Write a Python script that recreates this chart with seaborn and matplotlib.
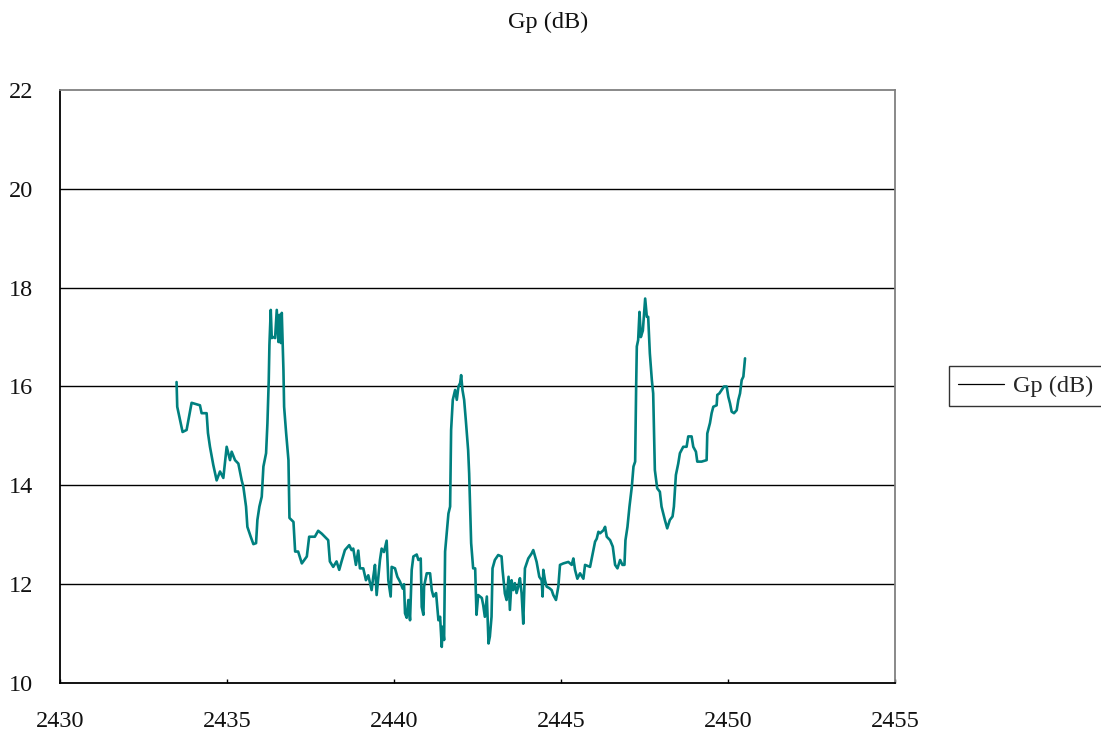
import matplotlib
matplotlib.use("Agg")
import matplotlib.pyplot as plt
from matplotlib.lines import Line2D
import numpy as np
import pandas as pd
import seaborn as sns

# Measured power gain versus frequency (MHz)
freq_mhz = [
    2433.49, 2433.51, 2433.67, 2433.79, 2433.94, 2434.19, 2434.24, 2434.39, 2434.43, 2434.49,
    2434.59, 2434.69, 2434.79, 2434.89, 2434.99, 2435.09, 2435.14, 2435.24, 2435.34, 2435.44,
    2435.49, 2435.57, 2435.61, 2435.71, 2435.79, 2435.87, 2435.91, 2435.97, 2436.04, 2436.09,
    2436.17, 2436.21, 2436.25, 2436.27, 2436.31, 2436.34, 2436.39, 2436.44, 2436.49, 2436.54,
    2436.57, 2436.61, 2436.64, 2436.69, 2436.71, 2436.77, 2436.84, 2436.87, 2436.99, 2437.04,
    2437.13, 2437.24, 2437.39, 2437.46, 2437.63, 2437.73, 2437.84, 2438.03, 2438.08, 2438.18,
    2438.28, 2438.36, 2438.43, 2438.53, 2438.66, 2438.73, 2438.78, 2438.86, 2438.93, 2438.98,
    2439.08, 2439.16, 2439.23, 2439.33, 2439.38, 2439.43, 2439.48, 2439.58, 2439.63, 2439.70,
    2439.78, 2439.83, 2439.90, 2439.93, 2440.03, 2440.10, 2440.18, 2440.26, 2440.30, 2440.33,
    2440.38, 2440.43, 2440.48, 2440.53, 2440.58, 2440.68, 2440.73, 2440.80, 2440.83, 2440.88,
    2440.90, 2440.98, 2441.08, 2441.13, 2441.18, 2441.26, 2441.33, 2441.38, 2441.43, 2441.46,
    2441.50, 2441.53, 2441.63, 2441.68, 2441.71, 2441.76, 2441.83, 2441.88, 2441.93, 2441.98,
    2442.01, 2442.05, 2442.10, 2442.15, 2442.22, 2442.25, 2442.31, 2442.37, 2442.43, 2442.47,
    2442.52, 2442.63, 2442.67, 2442.72, 2442.78, 2442.83, 2442.87, 2442.92, 2442.95, 2443.02,
    2443.12, 2443.22, 2443.25, 2443.32, 2443.37, 2443.43, 2443.47, 2443.52, 2443.57, 2443.62,
    2443.67, 2443.72, 2443.77, 2443.82, 2443.87, 2443.92, 2444.02, 2444.12, 2444.17, 2444.27,
    2444.35, 2444.42, 2444.45, 2444.47, 2444.52, 2444.57, 2444.65, 2444.72, 2444.77, 2444.85,
    2444.92, 2444.97, 2445.07, 2445.22, 2445.32, 2445.37, 2445.42, 2445.49, 2445.57, 2445.67,
    2445.72, 2445.87, 2445.95, 2446.02, 2446.07, 2446.12, 2446.17, 2446.27, 2446.32, 2446.37,
    2446.47, 2446.55, 2446.62, 2446.69, 2446.77, 2446.84, 2446.90, 2446.93, 2446.99, 2447.05,
    2447.12, 2447.17, 2447.22, 2447.25, 2447.27, 2447.31, 2447.35, 2447.39, 2447.45, 2447.52,
    2447.57, 2447.61, 2447.66, 2447.72, 2447.76, 2447.81, 2447.88, 2447.96, 2448.01, 2448.11,
    2448.18, 2448.26, 2448.34, 2448.38, 2448.44, 2448.51, 2448.56, 2448.66, 2448.76, 2448.81,
    2448.91, 2448.96, 2449.04, 2449.08, 2449.21, 2449.36, 2449.38, 2449.46, 2449.51, 2449.56,
    2449.66, 2449.68, 2449.74, 2449.81, 2449.88, 2449.96, 2450.01, 2450.06, 2450.11, 2450.18,
    2450.26, 2450.31, 2450.36, 2450.41, 2450.46, 2450.51,
]

gain_db = [
    16.09, 15.59, 15.08, 15.12, 15.67, 15.62, 15.46, 15.46, 15.06, 14.78,
    14.41, 14.10, 14.28, 14.15, 14.78, 14.51, 14.68, 14.51, 14.44, 14.10,
    13.97, 13.57, 13.16, 12.96, 12.81, 12.83, 13.30, 13.57, 13.77, 14.38,
    14.65, 15.25, 16.13, 16.84, 17.55, 16.98, 17.00, 16.98, 17.55, 16.90,
    17.45, 16.88, 17.49, 16.33, 15.59, 15.06, 14.51, 13.34, 13.26, 12.66,
    12.66, 12.42, 12.56, 12.96, 12.96, 13.08, 13.02, 12.89, 12.46, 12.35,
    12.46, 12.29, 12.46, 12.69, 12.79, 12.69, 12.72, 12.39, 12.68, 12.32,
    12.32, 12.08, 12.18, 11.88, 12.15, 12.39, 11.78, 12.49, 12.72, 12.65,
    12.88, 12.08, 11.75, 12.35, 12.32, 12.15, 12.05, 11.91, 12.00, 11.41,
    11.32, 11.68, 11.27, 12.29, 12.56, 12.60, 12.49, 12.52, 11.54, 11.38,
    11.95, 12.22, 12.22, 11.88, 11.75, 11.82, 11.27, 11.34, 10.73, 11.14,
    10.87, 12.66, 13.43, 13.57, 15.12, 15.73, 15.93, 15.73, 16.00, 16.07,
    16.23, 15.93, 15.73, 15.32, 14.71, 14.24, 12.83, 12.32, 12.32, 11.38,
    11.78, 11.72, 11.58, 11.34, 11.75, 10.80, 10.94, 11.34, 12.32, 12.49,
    12.59, 12.56, 12.29, 11.81, 11.68, 12.15, 11.48, 12.08, 11.88, 12.02,
    11.82, 11.95, 12.12, 11.82, 11.20, 12.32, 12.52, 12.62, 12.69, 12.45,
    12.15, 12.08, 11.75, 12.29, 12.08, 11.95, 11.92, 11.88, 11.78, 11.68,
    11.95, 12.39, 12.42, 12.45, 12.39, 12.52, 12.29, 12.11, 12.22, 12.11,
    12.39, 12.35, 12.62, 12.86, 12.92, 13.06, 13.03, 13.09, 13.16, 12.96,
    12.89, 12.76, 12.39, 12.32, 12.49, 12.39, 12.39, 12.89, 13.16, 13.57,
    13.97, 14.38, 14.48, 16.00, 16.81, 16.94, 17.51, 17.00, 17.13, 17.78,
    17.41, 17.41, 16.67, 16.13, 15.86, 14.31, 13.94, 13.87, 13.57, 13.30,
    13.13, 13.30, 13.37, 13.57, 14.21, 14.44, 14.65, 14.78, 14.78, 14.99,
    14.99, 14.78, 14.68, 14.48, 14.48, 14.51, 15.05, 15.26, 15.46, 15.59,
    15.62, 15.83, 15.86, 15.93, 16.00, 16.00, 15.79, 15.66, 15.49, 15.46,
    15.52, 15.73, 15.86, 16.13, 16.20, 16.57,
]

x_ticks = [2430, 2435, 2440, 2445, 2450, 2455]
y_ticks = [10, 12, 14, 16, 18, 20, 22]
series_name = "Gp (dB)"

df = pd.DataFrame({"freq": freq_mhz, "gain": gain_db})

sns.set_theme(style="white")
plt.rcParams["font.family"] = ["Liberation Serif", "DejaVu Serif"]

FS = 17.5

fig = plt.figure(figsize=(11.01, 7.34), dpi=100)
ax = fig.add_axes([60 / 1101, 1 - 683 / 734, (895 - 60) / 1101, (683 - 90) / 734])

sns.lineplot(data=df, x="freq", y="gain", ax=ax, color="#00807f",
             linewidth=1.9, sort=False, estimator=None, legend=False)

ax.set_xlim(2430, 2455)
ax.set_ylim(10, 22)
ax.set_xticks(x_ticks)
ax.set_yticks(y_ticks)
ax.set_xlabel("")
ax.set_ylabel("")

for y in y_ticks[1:-1]:
    ax.axhline(y, color="black", linewidth=1.0, zorder=0)

ax.spines["left"].set_color("black")
ax.spines["bottom"].set_color("black")
ax.spines["top"].set_color("#808080")
ax.spines["right"].set_color("#808080")
for s in ax.spines.values():
    s.set_linewidth(1.3)

ax.tick_params(axis="x", direction="in", length=3, width=1, color="black",
               labelsize=FS, pad=20, bottom=True)
ax.tick_params(axis="y", direction="in", length=0, labelsize=FS, pad=19.5, left=True)
for lbl in ax.get_yticklabels() + ax.get_xticklabels():
    lbl.set_color("#111111")

fig.text(548 / 1101, 1 - 22 / 734, series_name, ha="center", va="center",
         fontsize=FS, color="#111111")

handle = Line2D([0], [0], color="black", linewidth=0.9)
leg = fig.legend([handle], [series_name], loc="center left",
                 bbox_to_anchor=(949 / 1101, 1 - 386 / 734), frameon=True,
                 fancybox=False, fontsize=FS, handlelength=1.9, handletextpad=0.4,
                 borderpad=0.35, borderaxespad=0)
leg.get_frame().set_edgecolor("black")
leg.get_frame().set_linewidth(1.0)

fig.savefig("out.png", dpi=100)
